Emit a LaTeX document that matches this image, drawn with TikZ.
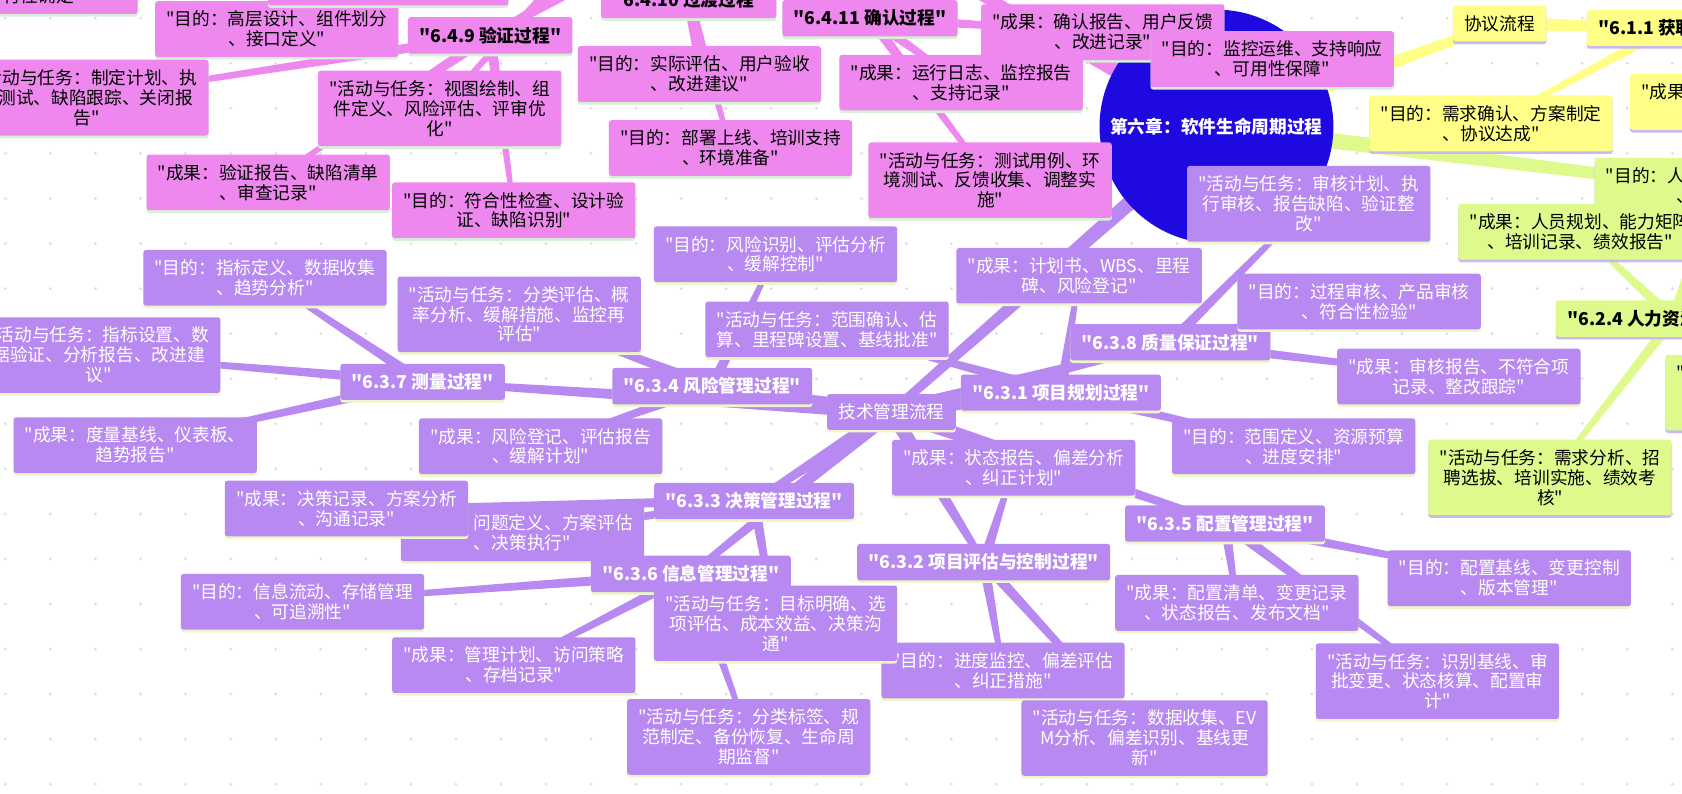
\documentclass[tikz,border=0pt]{standalone}
\usepackage{fontspec}
\newfontfamily\cjkfont{Noto Sans CJK SC}
\usetikzlibrary{calc,backgrounds,shadows}
\definecolor{pur}{RGB}{183,137,241}
\definecolor{pnk}{RGB}{238,136,238}
\definecolor{yel}{RGB}{255,255,136}
\definecolor{grn}{RGB}{222,249,140}
\definecolor{rootc}{RGB}{30,10,224}
\definecolor{dotc}{RGB}{220,220,220}
\definecolor{shpur}{RGB}{236,246,200}
\definecolor{shpnk}{RGB}{214,240,214}
\definecolor{shyel}{RGB}{200,185,240}
\newcommand\nodefs{\cjkfont\fontsize{16.5}{18.6}\selectfont}
\newcommand\taperedge[5]{\fill[#1] ($(#2)!#4!90:(#3)$) -- ($(#3)!#5!-90:(#2)$) -- ($(#3)!#5!90:(#2)$) -- ($(#2)!#4!-90:(#3)$) -- cycle;}
\newcommand\edgeroot[3]{\taperedge{#1}{#2}{#3}{8pt}{4pt}}
\newcommand\edgemid[3]{\taperedge{#1}{#2}{#3}{7pt}{3pt}}
\newcommand\edgeleaf[3]{\taperedge{#1}{#2}{#3}{5pt}{2pt}}
\tikzset{
  box/.style={rectangle, rounded corners=2.5pt, inner xsep=10.5pt, inner ysep=9pt, align=center, font=\nodefs},
  bp/.style={box, fill=pur, text=white, general shadow={fill=shpur, shadow yshift=-2.5pt}},
  bk/.style={box, fill=pnk, text=black, general shadow={fill=shpnk, shadow yshift=-2.5pt}},
  by/.style={box, fill=yel, text=black, general shadow={fill=shyel, shadow yshift=-2.5pt}},
  bg/.style={box, fill=grn, text=black, general shadow={fill=shyel, shadow yshift=-2.5pt}},
  proc/.style={font={\nodefs\bfseries}},
  rootnode/.style={circle, fill=rootc, text=white, minimum size=218pt, inner sep=0pt, font={\nodefs\bfseries}}
}
\begin{document}
\begin{tikzpicture}[x=1pt,y=-1pt]
\useasboundingbox (0,0) rectangle (1568,740);
% root
\node[rootnode] (root) at (1134,118) {第六章：软件生命周期过程};
% pink group
\node[bk] (P0) at (15,-13) {\phantom{"目的：需求分析、方案评估}\\\phantom{、技}可行性确定"};
\node[bk] (P2) at (258,27) {"目的：高层设计、组件划分\\、接口定义"};
\node[bk, minimum width=224pt, minimum height=46pt] (P1) at (362,-18) {};
\node[bk,proc] (P3) at (457,33) {"6.4.9 验证过程"};
\node[bk] (P4) at (81,91) {"活动与任务：制定计划、执\\行测试、缺陷跟踪、关闭报\\告"};
\node[bk] (P5) at (410,101) {"活动与任务：视图绘制、组\\件定义、风险评估、评审优\\化"};
\node[bk] (P6) at (250,170) {"成果：验证报告、缺陷清单\\、审查记录"};
\node[bk] (P7) at (479,196) {"目的：符合性检查、设计验\\证、缺陷识别"};
\node[bk,proc] (P8) at (642,0) {"6.4.10 过渡过程"};
\node[bk,proc] (P9) at (811,17) {"6.4.11 确认过程"};
\node[bk] (P10) at (652,69) {"目的：实际评估、用户验收\\、改进建议"};
\node[bk] (P11) at (681,138) {"目的：部署上线、培训支持\\、环境准备"};
\node[bk] (P12) at (1028,30) {"成果：确认报告、用户反馈\\、改进记录"};
\node[bk] (P13) at (896,77) {"成果：运行日志、监控报告\\、支持记录"};
\node[bk] (P14) at (1186,55) {"目的：监控运维、支持响应\\、可用性保障"};
\node[bk] (P15) at (923,168) {"活动与任务：测试用例、环\\境测试、反馈收集、调整实\\施"};
% yellow / green
\node[by] (Y0) at (1398,22) {协议流程};
\node[by,proc] (Y1) at (1556,26) {"6.1.1 获取过程"};
\node[by] (Y2) at (1633,95) {"成果\phantom{：合同文本、需求规格}\\、\phantom{评估报告"}};
\node[by] (Y3) at (1390,115) {"目的：需求确认、方案制定\\、协议达成"};
\node[bg] (G0) at (1600,173) {"目的：人\phantom{员配置、能力建设}\\、\phantom{绩效管"}};
\node[bg] (G1) at (1473,216) {"成果：人员规划、能力矩阵\\、培训记录、绩效报告"};
\node[bg,proc] (G2) at (1560,297) {"6.2.4 人力资源管理过程"};
\node[bg] (G3) at (1445,445) {"活动与任务：需求分析、招\\聘选拔、培训实施、绩效考\\核"};
\node[bg] (G4) at (1666,366) {"\phantom{活动与任务：需求分析、招}\\\phantom{聘选拔、培训实施、绩效考}\\\phantom{核"}};
% purple group
\node[bp] (T0) at (831,384) {技术管理流程};
\node[bp,proc] (T1) at (989,366) {"6.3.1 项目规划过程"};
\node[bp,proc] (T2) at (917,524) {"6.3.2 项目评估与控制过程"};
\node[bp,proc] (T3) at (703,467) {"6.3.3 决策管理过程"};
\node[bp,proc] (T4) at (664,360) {"6.3.4 风险管理过程"};
\node[bp,proc] (T5) at (1142,488) {"6.3.5 配置管理过程"};
\node[bp,proc] (T7) at (394,356) {"6.3.7 测量过程"};
\node[bp,proc] (T8) at (1091,319) {"6.3.8 质量保证过程"};
\node[bp] (L1) at (723,237) {"目的：风险识别、评估分析\\、缓解控制"};
\node[bp] (L2) at (484,293) {"活动与任务：分类评估、概\\率分析、缓解措施、监控再\\评估"};
\node[bp] (L3) at (771,307) {"活动与任务：范围确认、估\\算、里程碑设置、基线批准"};
\node[bp] (L4) at (1006,257) {"成果：计划书、WBS、里程\\碑、风险登记"};
\node[bp] (L5) at (1220,190) {"活动与任务：审核计划、执\\行审核、报告缺陷、验证整\\改"};
\node[bp] (L6) at (1267,281) {"目的：过程审核、产品审核\\、符合性检验"};
\node[bp] (L7) at (1360,351) {"成果：审核报告、不符合项\\记录、整改跟踪"};
\node[bp] (L8) at (1206,416) {"目的：范围定义、资源预算\\、进度安排"};
\node[bp] (L9) at (247,259) {"目的：指标定义、数据收集\\、趋势分析"};
\node[bp] (L10) at (92,331) {"活动与任务：指标设置、数\\据验证、分析报告、改进建\\议"};
\node[bp] (L11) at (126,415) {"成果：度量基线、仪表板、\\趋势报告"};
\node[bp] (L12) at (504,416) {"成果：风险登记、评估报告\\、缓解计划"};
\node[bp] (L14) at (487,497) {"目的：问题定义、方案评估\\、决策执行"};
\node[bp] (L13) at (323,474) {"成果：决策记录、方案分析\\、沟通记录"};
\node[bp] (L15) at (282,561) {"目的：信息流动、存储管理\\、可追溯性"};
\node[bp] (L17) at (479,620) {"成果：管理计划、访问策略\\、存档记录"};
\node[bp,proc] (T6) at (644,535) {"6.3.6 信息管理过程"};
\node[bp] (L20) at (935,625) {"目的：进度监控、偏差评估\\、纠正措施"};
\node[bp] (L16) at (723,581) {"活动与任务：目标明确、选\\项评估、成本效益、决策沟\\通"};
\node[bp] (L18) at (698,687) {"活动与任务：分类标签、规\\范制定、备份恢复、生命周\\期监督"};
\node[bp] (L19) at (945,436) {"成果：状态报告、偏差分析\\、纠正计划"};
\node[bp] (L21) at (1067,688) {"活动与任务：数据收集、EV\\M分析、偏差识别、基线更\\新"};
\node[bp] (L22) at (1153,562) {"成果：配置清单、变更记录\\、状态报告、发布文档"};
\node[bp] (L23) at (1407,539) {"目的：配置基线、变更控制\\、版本管理"};
\node[bp] (L24) at (1340,635) {"活动与任务：识别基线、审\\批变更、状态核算、配置审\\计"};
% off-canvas ends
\coordinate (opk) at (816,-60);
\coordinate (ogr) at (1720,190);
\coordinate (oP3) at (560,-25);
\coordinate (oP5) at (545,-45);
\begin{pgfonlayer}{background}
\fill[white] (0,0) rectangle (1568,740);
\foreach \i in {0,...,37}{\foreach \j in {0,...,17}{\fill[dotc] (5+42*\i,17+42*\j) circle (1.4);}}
% root branches
\edgeroot{pur}{root}{T0}
\edgeroot{yel}{root}{Y0}
\edgeroot{grn}{root}{ogr}
\edgeroot{pnk}{root}{opk}
% purple
\edgemid{pur}{T0}{T1}
\edgemid{pur}{T0}{T2}
\edgemid{pur}{T0}{T3}
\edgemid{pur}{T0}{T4}
\edgemid{pur}{T0}{T5}
\edgemid{pur}{T0}{T6}
\edgemid{pur}{T0}{T7}
\edgemid{pur}{T0}{T8}
\edgeleaf{pur}{T1}{L3}
\edgeleaf{pur}{T1}{L4}
\edgeleaf{pur}{T1}{L8}
\edgeleaf{pur}{T2}{L19}
\edgeleaf{pur}{T2}{L20}
\edgeleaf{pur}{T2}{L21}
\edgeleaf{pur}{T3}{L13}
\edgeleaf{pur}{T3}{L14}
\edgeleaf{pur}{T3}{L16}
\edgeleaf{pur}{T4}{L1}
\edgeleaf{pur}{T4}{L2}
\edgeleaf{pur}{T4}{L12}
\edgeleaf{pur}{T5}{L22}
\edgeleaf{pur}{T5}{L23}
\edgeleaf{pur}{T5}{L24}
\edgeleaf{pur}{T6}{L15}
\edgeleaf{pur}{T6}{L17}
\edgeleaf{pur}{T6}{L18}
\edgeleaf{pur}{T7}{L9}
\edgeleaf{pur}{T7}{L10}
\edgeleaf{pur}{T7}{L11}
\edgeleaf{pur}{T8}{L5}
\edgeleaf{pur}{T8}{L6}
\edgeleaf{pur}{T8}{L7}
% pink
\edgemid{pnk}{oP3}{P3}
\edgeleaf{pnk}{oP5}{P5}
\edgeleaf{pnk}{P3}{P4}
\edgeleaf{pnk}{P3}{P6}
\edgeleaf{pnk}{P3}{P7}
\edgeleaf{pnk}{P8}{P10}
\edgeleaf{pnk}{P8}{P11}
\edgeleaf{pnk}{P9}{P12}
\edgeleaf{pnk}{P9}{P13}
\edgeleaf{pnk}{P9}{P15}
% yellow / green
\edgemid{yel}{Y0}{Y1}
\edgeleaf{yel}{Y1}{Y2}
\edgeleaf{yel}{Y1}{Y3}
\edgeleaf{grn}{G2}{G0}
\edgeleaf{grn}{G2}{G1}
\edgeleaf{grn}{G2}{G3}
\edgeleaf{grn}{G2}{G4}
\end{pgfonlayer}
\end{tikzpicture}
\end{document}
